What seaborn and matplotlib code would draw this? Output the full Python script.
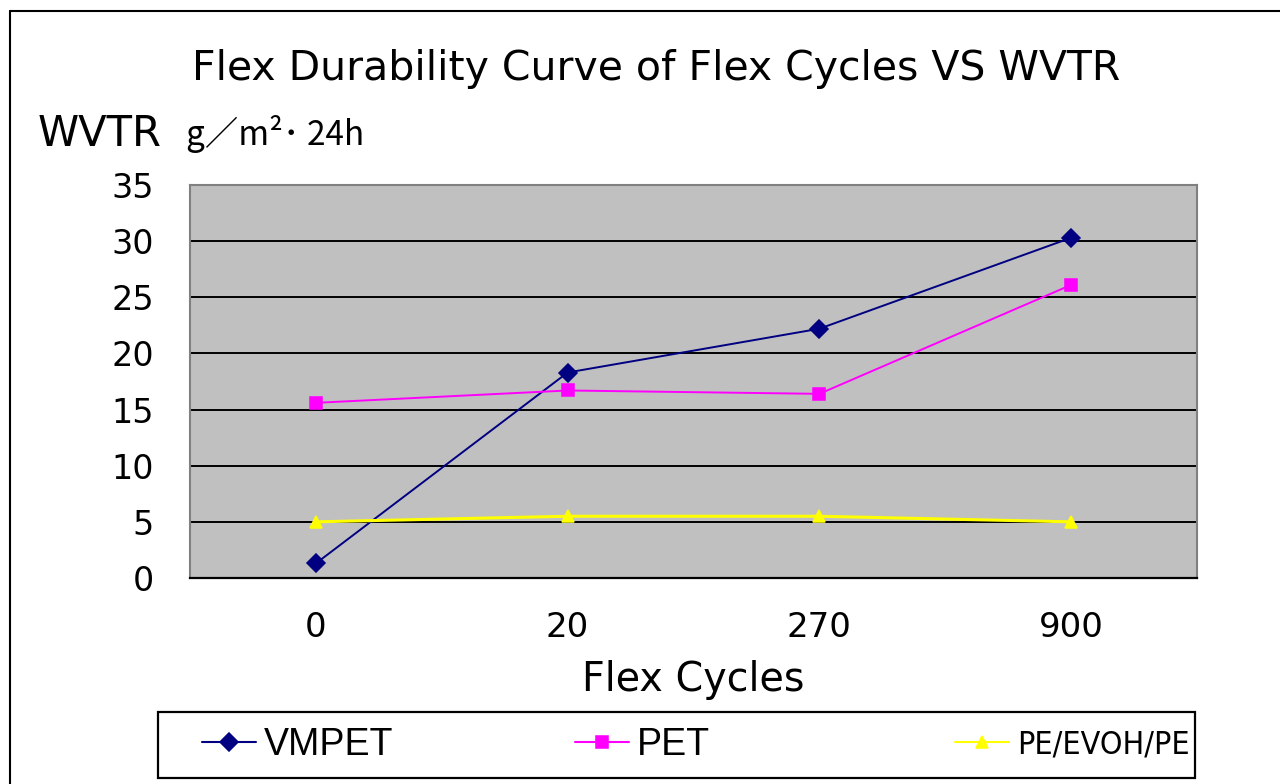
import matplotlib
matplotlib.use("Agg")
import matplotlib.pyplot as plt
from matplotlib.lines import Line2D
from matplotlib.patches import Rectangle
from matplotlib import font_manager
import seaborn as sns
import pandas as pd

# ---- data ----
cycles = ["0", "20", "270", "900"]
series_names = ["VMPET", "PET", "PE/EVOH/PE"]
vmpet = [1.3, 18.3, 22.2, 30.3]
pet = [15.6, 16.7, 16.4, 26.1]
pe_evoh_pe = [5.0, 5.5, 5.5, 5.0]
yticks = [0, 5, 10, 15, 20, 25, 30, 35]

colors = ["#000080", "#FF00FF", "#FFFF00"]
markers = ["D", "s", "^"]

df = pd.DataFrame({
    "cycles": cycles * 3,
    "wvtr": vmpet + pet + pe_evoh_pe,
    "series": [s for s in series_names for _ in cycles],
})

sns.set_theme(style="white")
plt.rcParams["font.family"] = ["DejaVu Sans"]
plt.rcParams["text.color"] = "black"
plt.rcParams["axes.labelcolor"] = "black"
plt.rcParams["xtick.color"] = "black"
plt.rcParams["ytick.color"] = "black"

W, H = 1280, 784
fig = plt.figure(figsize=(W / 100, H / 100), dpi=100)
ax = fig.add_axes([190 / W, 1 - 578 / H, (1197 - 190) / W, (578 - 185) / H])
ax.set_facecolor("#C0C0C0")

sns.pointplot(data=df, x="cycles", y="wvtr", hue="series", order=cycles,
              hue_order=series_names, palette=colors, markers=markers,
              linestyles="-", errorbar=None, ax=ax, markersize=9,
              linewidth=1.5, legend=True)

for ln, lw in zip(ax.lines, [1.4, 1.4, 2.2]):
    ln.set_linewidth(lw)

handles, labels = ax.get_legend_handles_labels()
if ax.get_legend() is not None:
    ax.get_legend().remove()

ax.set_xlim(-0.5, 3.5)
ax.set_ylim(0, 35)
ax.set_yticks(yticks)
ax.set_yticklabels([str(v) for v in yticks])
ax.yaxis.grid(True, color="black", linewidth=1.4)
ax.xaxis.grid(False)
ax.set_axisbelow(True)

ax.tick_params(axis="y", length=0, pad=26, labelsize=24, labelcolor="black")
ax.tick_params(axis="x", which="major", length=0, pad=24, labelsize=24.5,
               labelcolor="black")
ax.set_xticks([-0.5, 0.5, 1.5, 2.5, 3.5], minor=True)
ax.tick_params(axis="x", which="minor", direction="in", length=8, width=1.2,
               color="black")

for side in ["top", "right", "left"]:
    ax.spines[side].set_color("#808080")
    ax.spines[side].set_linewidth(1.5)
ax.spines["bottom"].set_color("black")
ax.spines["bottom"].set_linewidth(1.6)

ax.set_xlabel("Flex Cycles", fontsize=28.5, labelpad=11, color="black")
ax.set_ylabel("")

# title and y-axis label
fig.text(656 / W, 1 - 69 / H, "Flex Durability Curve of Flex Cycles VS WVTR",
         ha="center", va="center", fontsize=29.5, color="black")
fig.text(38 / W, 1 - 134 / H, "WVTR", ha="left", va="center", fontsize=30,
         color="black")
fig.text(186 / W, 1 - 134 / H, "g／m²･ 24h", ha="left", va="center",
         fontsize=24, color="black",
         family=["Noto Sans CJK JP", "DejaVu Sans"])

# outer chart frame
fig.add_artist(Line2D([10 / W, 10 / W], [0, 1 - 11 / H], color="black",
                      linewidth=1.5, transform=fig.transFigure))
fig.add_artist(Line2D([10 / W, 1], [1 - 11 / H, 1 - 11 / H], color="black",
                      linewidth=1.5, transform=fig.transFigure))

# legend box
lx0, lx1, ly0, ly1 = 158, 1195, 712, 778
fig.add_artist(Rectangle((lx0 / W, 1 - ly1 / H), (lx1 - lx0) / W,
                         (ly1 - ly0) / H, transform=fig.transFigure,
                         facecolor="white", edgecolor="black", linewidth=1.6))
ycen = 1 - (ly0 + ly1) / 2 / H

# a condensed face for the long third label if available
third_font = {"family": ["Liberation Sans"], "size": 21.5}
try:
    fp_c = font_manager.FontProperties(family="DejaVu Sans", stretch="condensed")
    path = font_manager.findfont(fp_c, fallback_to_default=False)
    if "Condensed" in path:
        third_font = {"family": ["DejaVu Sans"], "stretch": "condensed",
                      "size": 23}
except Exception:
    pass

leg_fonts = [
    {"family": ["Liberation Sans"], "size": 27},
    {"family": ["Liberation Sans"], "size": 27},
    third_font,
]
for h, lab, x0, fp in zip(handles, labels, [202, 575, 955], leg_fonts):
    leg = fig.legend([h], [lab], loc="center left",
                     bbox_to_anchor=(x0 / W, ycen), frameon=False,
                     prop=fp, handlelength=1.45 * 27 / fp["size"],
                     handletextpad=0.2 * 27 / fp["size"],
                     borderpad=0, borderaxespad=0)
    leg.set_zorder(5)

fig.savefig("out.png", dpi=100, facecolor="white")
